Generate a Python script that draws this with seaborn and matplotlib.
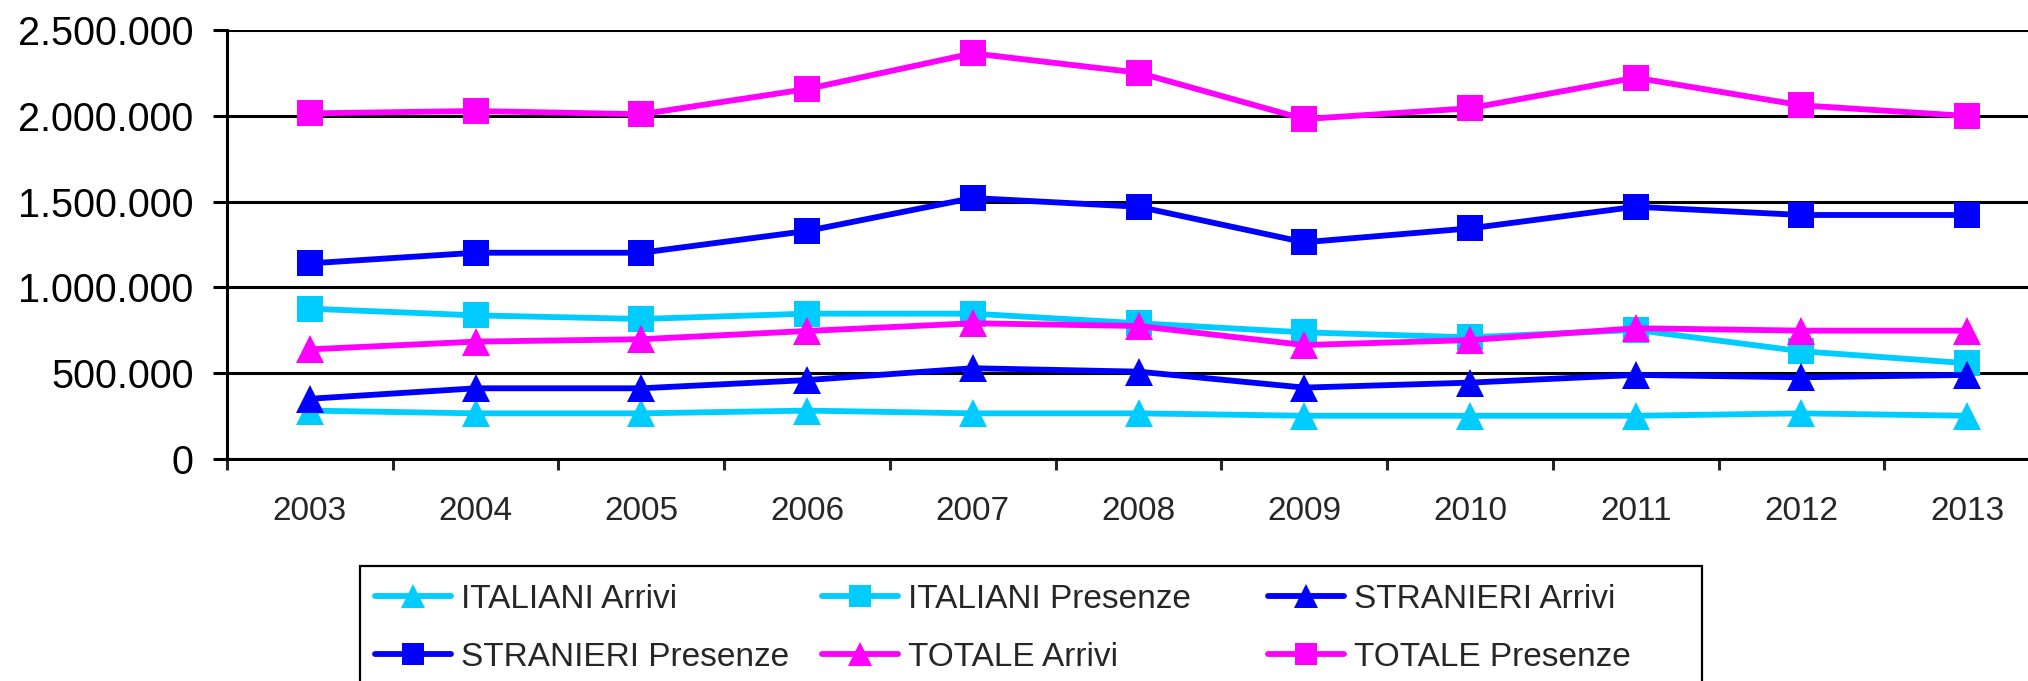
import matplotlib
matplotlib.use("Agg")
import matplotlib.pyplot as plt
from matplotlib.patches import Rectangle
from matplotlib.ticker import FuncFormatter, MultipleLocator, FixedLocator
import seaborn as sns
import pandas as pd
import numpy as np

years = [2003, 2004, 2005, 2006, 2007, 2008, 2009, 2010, 2011, 2012, 2013]
italiani_arrivi = [282000, 266000, 266000, 282000, 266000, 266000, 252000, 252000, 252000, 266000, 252000]
italiani_presenze = [876000, 837000, 816000, 847000, 847000, 791000, 738000, 709000, 752000, 628000, 558000]
stranieri_arrivi = [351000, 412000, 412000, 460000, 529000, 509000, 416000, 445000, 490000, 476000, 490000]
stranieri_presenze = [1140000, 1202000, 1202000, 1329000, 1521000, 1470000, 1263000, 1344000, 1470000, 1422000, 1422000]
totale_arrivi = [639000, 684000, 698000, 746000, 791000, 775000, 664000, 693000, 762000, 748000, 748000]
totale_presenze = [2014000, 2028000, 2009000, 2156000, 2364000, 2251000, 1981000, 2044000, 2222000, 2061000, 1999000]

series_names = ["ITALIANI Arrivi", "ITALIANI Presenze", "STRANIERI Arrivi",
                "STRANIERI Presenze", "TOTALE Arrivi", "TOTALE Presenze"]
series_values = [italiani_arrivi, italiani_presenze, stranieri_arrivi,
                 stranieri_presenze, totale_arrivi, totale_presenze]
colors = ["#00CCFF", "#00CCFF", "#0000FF", "#0000FF", "#FF00FF", "#FF00FF"]
marker_kinds = ["^", "s", "^", "s", "^", "s"]

df = pd.concat([pd.DataFrame({"Anno": years, "Valore": v, "Serie": n})
                for n, v in zip(series_names, series_values)], ignore_index=True)

sns.set_style("white")
plt.rcParams["font.family"] = ["Liberation Sans", "DejaVu Sans"]

W, H = 2028, 681
fig = plt.figure(figsize=(W / 100, H / 100), dpi=100)
ax = fig.add_axes([227 / W, 1 - 459 / H, 1823 / W, 429 / H])

sns.lineplot(data=df, x="Anno", y="Valore", hue="Serie", style="Serie",
             hue_order=series_names, style_order=series_names,
             palette=dict(zip(series_names, colors)),
             markers=dict(zip(series_names, marker_kinds)),
             dashes=False, linewidth=4.2, markersize=20.5,
             markeredgewidth=0, legend=False, ax=ax, sort=False, zorder=3)

for ln in ax.lines:
    if ln.get_marker() == "s":
        ln.set_markersize(19.4)

ax.set_xlim(years[0] - 0.5, years[-1] + 0.5)
ax.set_ylim(0, 2500000)
ax.set_xlabel("")
ax.set_ylabel("")

ax.yaxis.set_major_locator(MultipleLocator(500000))
ax.yaxis.set_major_formatter(FuncFormatter(lambda v, p: f"{int(round(v)):,}".replace(",", ".")))
ax.xaxis.set_major_locator(FixedLocator(years))
ax.xaxis.set_major_formatter(FuncFormatter(lambda v, p: f"{int(round(v))}"))
ax.xaxis.set_minor_locator(FixedLocator([y - 0.5 for y in years] + [years[-1] + 0.5]))

ax.tick_params(axis="y", which="major", direction="out", length=10, width=2.2,
               labelsize=28.5, pad=14, colors="black", left=True)
ax.tick_params(axis="x", which="major", length=0, labelsize=24, pad=27, bottom=True)
ax.tick_params(axis="x", which="minor", direction="out", length=8, width=2.2, bottom=True)

ax.grid(axis="y", color="black", linewidth=2.2, zorder=1)
ax.grid(axis="x", visible=False)
ax.set_axisbelow(True)
fig.canvas.draw()
gls = ax.yaxis.get_gridlines()
if len(gls):
    gls[-1].set_color("#808080")

for s in ["top", "right"]:
    ax.spines[s].set_visible(False)
for s in ["left", "bottom"]:
    ax.spines[s].set_color("black")
    ax.spines[s].set_linewidth(2.2)
    ax.spines[s].set_zorder(4)

# legend: three frameless columns inside one frame
lines = ax.lines[:len(series_names)]
col_x = [375, 822, 1268]
for ci in range(3):
    idx = [ci, ci + 3]
    fig.legend([lines[i] for i in idx], [series_names[i] for i in idx],
               loc="upper left", bbox_to_anchor=(col_x[ci] / W, 1 - 584 / H),
               frameon=False, fontsize=24, borderpad=0, borderaxespad=0,
               handlelength=2.28, handletextpad=0.3, labelspacing=0.81,
               markerscale=0.83)

fig.add_artist(Rectangle((360 / W, -0.1), (1702 - 360) / W, 0.1 + (681 - 566) / H,
                         transform=fig.transFigure, fill=False,
                         edgecolor="black", linewidth=1.6))

fig.savefig("out.png", dpi=100)
